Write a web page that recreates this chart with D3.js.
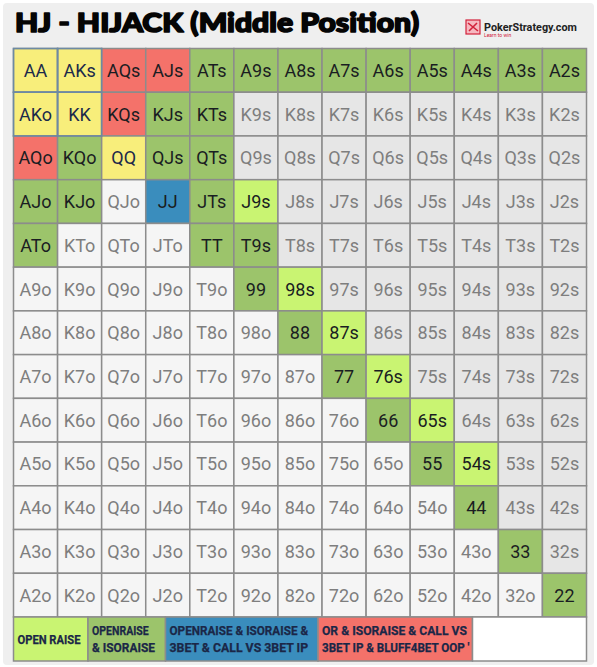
<!DOCTYPE html>
<html>
<head>
<meta charset="utf-8">
<script src="https://cdn.jsdelivr.net/npm/d3@7"></script>
<style>
  body { margin: 0; background: #fff; }
  svg { display: block; }
</style>
</head>
<body>
<svg id="chart" width="597" height="667"></svg>
<script>
// ranks on both axes (row = first card, col = second card)
const ranks = ["A", "K", "Q", "J", "T", "9", "8", "7", "6", "5", "4", "3", "2"];

// hands per action
const openRaise = ["J9s", "98s", "87s", "76s", "65s", "54s"];
const openIso = [
    "ATs", "A9s", "A8s", "A7s", "A6s", "A5s", "A4s", "A3s", "A2s",
    "KJs", "KTs", "KQo", "QJs", "QTs", "AJo", "KJo", "JTs", "ATo", "TT", "T9s",
    "99", "88", "77", "66", "55", "44", "33", "22"
];
const threeBetCall = ["JJ"];
const fourBetBluff = ["AQs", "AJs", "KQs", "AQo"];
const premium = ["AA", "AKs", "AKo", "KK", "QQ"];

// legend entries
const legendLabels = [
    ["OPEN RAISE"],
    ["OPENRAISE", "& ISORAISE"],
    ["OPENRAISE & ISORAISE &", "3BET & CALL VS 3BET IP"],
    ["OR & ISORAISE & CALL VS", "3BET IP & BLUFF4BET OOP '"],
    []
];
const legendEdges = [13.5, 88, 165.5, 318, 472.5, 586.5];

const colors = {
    open: "#c9f472",
    iso: "#9cc46b",
    threebet: "#3a8dbd",
    bluff: "#f4726a",
    premium: "#f8ee7b",
    suited: "#e6e6e6",
    offsuit: "#f5f5f5"
};
const legendColors = [colors.open, colors.iso, colors.threebet, colors.bluff, "#ffffff"];

const svg = d3.select("#chart");

// panel background
svg.append("rect")
    .attr("x", 3).attr("y", 3)
    .attr("width", 591).attr("height", 662)
    .attr("rx", 4)
    .attr("fill", "#efefef");

// title (stroked to get the heavy look)
svg.append("text")
    .attr("x", 15).attr("y", 32)
    .attr("font-family", "Lato, sans-serif")
    .attr("font-weight", 900)
    .attr("font-size", 26)
    .attr("fill", "#050505")
    .attr("stroke", "#050505")
    .attr("stroke-width", 1.6)
    .attr("stroke-linejoin", "round")
    .attr("textLength", 404)
    .attr("lengthAdjust", "spacingAndGlyphs")
    .text("HJ - HIJACK (Middle Position)");

// logo
const logo = svg.append("g").attr("transform", "translate(466, 20)");
logo.append("rect")
    .attr("width", 14).attr("height", 14)
    .attr("fill", "#f6b8c0").attr("stroke", "#d2213a").attr("stroke-width", 1.2);
logo.append("path")
    .attr("d", "M2,3 L12,11 M3,11 L11,3")
    .attr("stroke", "#d2213a").attr("stroke-width", 1.6).attr("fill", "none");
logo.append("text")
    .attr("x", 18).attr("y", 10.5)
    .attr("font-family", "Roboto, sans-serif")
    .attr("font-weight", "bold")
    .attr("font-size", 11)
    .attr("fill", "#222")
    .attr("textLength", 93)
    .attr("lengthAdjust", "spacingAndGlyphs")
    .text("PokerStrategy.com");
logo.append("text")
    .attr("x", 18).attr("y", 17)
    .attr("font-family", "Roboto, sans-serif")
    .attr("font-size", 5)
    .attr("fill", "#d2213a")
    .text("Learn to win");

// grid scales
const x = d3.scaleBand().domain(d3.range(13)).range([13.5, 586.5]);
const y = d3.scaleBand().domain(d3.range(13)).range([48.5, 617]);

function handName(r, c) {
    if (r === c) return ranks[r] + ranks[c];
    if (c > r) return ranks[r] + ranks[c] + "s";
    return ranks[c] + ranks[r] + "o";
}

function handColor(h, r, c) {
    if (premium.includes(h)) return colors.premium;
    if (fourBetBluff.includes(h)) return colors.bluff;
    if (threeBetCall.includes(h)) return colors.threebet;
    if (openIso.includes(h)) return colors.iso;
    if (openRaise.includes(h)) return colors.open;
    return c > r ? colors.suited : colors.offsuit;
}

const cells = [];
ranks.forEach((_, r) => ranks.forEach((_, c) => {
    const h = handName(r, c);
    const fill = handColor(h, r, c);
    const gray = fill === colors.suited || fill === colors.offsuit;
    cells.push({ r, c, h, fill, gray });
}));

const grid = svg.append("g");

const cell = grid.selectAll(".cell")
    .data(cells)
    .enter()
    .append("g")
    .attr("class", "cell")
    .attr("transform", d => `translate(${x(d.c)}, ${y(d.r)})`);

cell.append("rect")
    .attr("width", x.bandwidth())
    .attr("height", y.bandwidth())
    .attr("fill", d => d.fill)
    .attr("stroke", "#8c8c8c")
    .attr("stroke-width", 1.5);

cell.append("text")
    .attr("x", x.bandwidth() / 2)
    .attr("y", y.bandwidth() / 2 + 6.5)
    .attr("text-anchor", "middle")
    .attr("font-family", "Roboto, sans-serif")
    .attr("font-size", 18)
    .attr("fill", d => d.gray ? "#7e7e7e" : (d.fill === colors.premium ? "#1c2a4a" : "#1a1d22"))
    .text(d => d.h);

// the AA/AK/KK block has a slate border
grid.selectAll(".prem")
    .data(cells.filter(d => d.r < 2 && d.c < 2))
    .enter()
    .append("rect")
    .attr("x", d => x(d.c)).attr("y", d => y(d.r))
    .attr("width", x.bandwidth()).attr("height", y.bandwidth())
    .attr("fill", "none")
    .attr("stroke", "#6d8aa3")
    .attr("stroke-width", 1.5);

// legend
const legendTop = 617, legendH = 44;
const legend = svg.append("g");
legendLabels.forEach((lines, i) => {
    const x0 = legendEdges[i], x1 = legendEdges[i + 1];
    legend.append("rect")
        .attr("x", x0).attr("y", legendTop)
        .attr("width", x1 - x0).attr("height", legendH)
        .attr("fill", legendColors[i])
        .attr("stroke", "#8c8c8c")
        .attr("stroke-width", 1.5);
    lines.forEach((line, j) => {
        const yy = lines.length === 1 ? legendTop + 27 : legendTop + 18 + j * 16.5;
        legend.append("text")
            .attr("x", x0 + 4)
            .attr("y", yy)
            .attr("font-family", "Roboto, sans-serif")
            .attr("font-weight", "bold")
            .attr("font-size", 12.5)
            .attr("fill", "#1b2747")
            .attr("stroke", "#1b2747")
            .attr("stroke-width", 0.25)
            .attr("textLength", Math.min(x1 - x0 - 7, line.length * 6.3))
            .attr("lengthAdjust", "spacingAndGlyphs")
            .text(line);
    });
});
</script>
</body>
</html>
